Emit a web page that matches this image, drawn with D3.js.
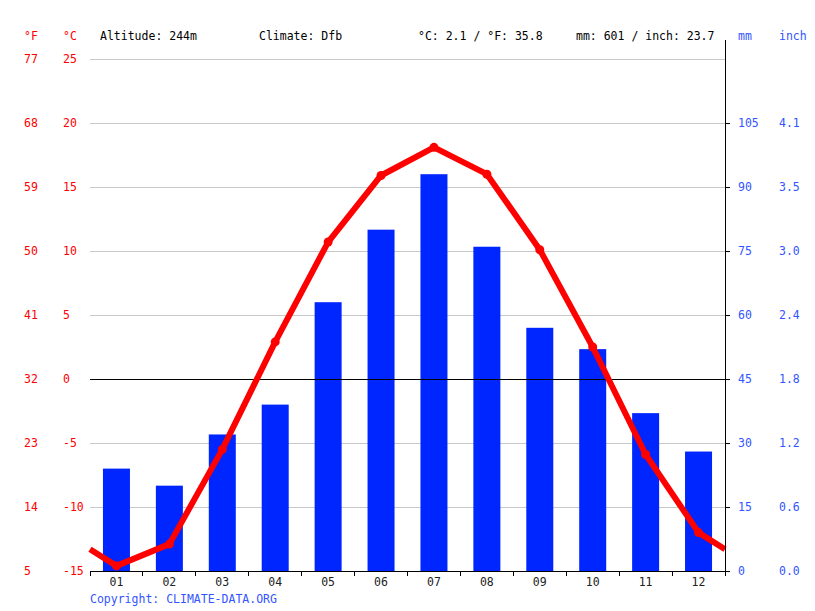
<!DOCTYPE html>
<html><head><meta charset="utf-8">
<script src="https://cdn.jsdelivr.net/npm/d3@7"></script>
<style>body{margin:0;background:#fff}svg{display:block}text{font-family:"DejaVu Sans Mono",monospace;font-size:11.5px}</style>
</head><body><svg id="c" width="815" height="611"></svg>
<script>
const months = ["01","02","03","04","05","06","07","08","09","10","11","12"];
const precipMm = [24,20,32,39,63,80,93,76,57,52,37,28];
const tempC = [-14.6,-12.9,-5.5,2.9,10.7,15.9,18.1,16.0,10.1,2.5,-5.9,-12.0];
const cTicks = [25,20,15,10,5,0,-5,-10,-15];
const fTicks = ["77","68","59","50","41","32","23","14","5"];
const mmTicks = [0,15,30,45,60,75,90,105];
const inchTicks = ["0.0","0.6","1.2","1.8","2.4","3.0","3.5","4.1"];
const header = [
  {t:"Altitude: 244m", x:100},
  {t:"Climate: Dfb", x:259},
  {t:"°C: 2.1 / °F: 35.8", x:418},
  {t:"mm: 601 / inch: 23.7", x:576}
];

const svg = d3.select("#c");
const L=90, R=725, T=59, B=571;
const x = d3.scaleBand().domain(months).range([L,R]);
const yC = d3.scaleLinear().domain([-15,25]).range([B,T]);
const yMm = d3.scaleLinear().domain([0,120]).range([B,T]);
const red="#ff0000", blue="#0026ff", lblue="#3355ff";

// gridlines
svg.append("g").selectAll("line").data(cTicks.filter(d=>d!==-15 && d!==0)).join("line")
  .attr("x1",L).attr("x2",R).attr("y1",d=>yC(d)).attr("y2",d=>yC(d))
  .attr("stroke","#c8c8c8").attr("stroke-width",1).attr("shape-rendering","crispEdges");

// bars
const bw = 27;
svg.append("g").selectAll("rect").data(precipMm).join("rect")
  .attr("x",(d,i)=>x(months[i])+x.bandwidth()/2-bw/2)
  .attr("width",bw)
  .attr("y",d=>yMm(d)).attr("height",d=>B-yMm(d))
  .attr("fill",blue);

// zero line
svg.append("line").attr("x1",L).attr("x2",R).attr("y1",yC(0)).attr("y2",yC(0))
  .attr("stroke","#000").attr("shape-rendering","crispEdges");

// temperature line with wrap-around ends
const edge = (tempC[0]+tempC[11])/2;
const pts = [[L,edge]].concat(tempC.map((d,i)=>[x(months[i])+x.bandwidth()/2,d])).concat([[R,edge]]);
svg.append("path").datum(pts)
  .attr("d",d3.line().x(d=>d[0]).y(d=>yC(d[1])))
  .attr("fill","none").attr("stroke",red).attr("stroke-width",6).attr("stroke-linejoin","round");
svg.append("g").selectAll("circle").data(tempC).join("circle")
  .attr("cx",(d,i)=>x(months[i])+x.bandwidth()/2).attr("cy",d=>yC(d)).attr("r",4.5).attr("fill",red);

// bottom axis
svg.append("line").attr("x1",L).attr("x2",R).attr("y1",B).attr("y2",B).attr("stroke","#000").attr("shape-rendering","crispEdges");
const bounds = d3.range(13).map(i=>L+i*x.step());
svg.append("g").selectAll("line").data(bounds).join("line")
  .attr("x1",d=>d).attr("x2",d=>d).attr("y1",B).attr("y2",B+5).attr("stroke","#000").attr("shape-rendering","crispEdges");
svg.append("g").selectAll("text").data(months).join("text")
  .attr("x",d=>x(d)+x.bandwidth()/2).attr("y",B+15).attr("text-anchor","middle").attr("fill","#222").text(d=>d);

// right axis
svg.append("line").attr("x1",R).attr("x2",R).attr("y1",40).attr("y2",B).attr("stroke","#000").attr("shape-rendering","crispEdges");
svg.append("g").selectAll("line").data(mmTicks).join("line")
  .attr("x1",R).attr("x2",R+5).attr("y1",d=>yMm(d)).attr("y2",d=>yMm(d)).attr("stroke","#000").attr("shape-rendering","crispEdges");
svg.append("g").selectAll("text").data(mmTicks).join("text")
  .attr("x",738).attr("y",d=>yMm(d)+4).attr("fill",lblue).text(d=>d);
svg.append("g").selectAll("text").data(inchTicks).join("text")
  .attr("x",779).attr("y",(d,i)=>yMm(mmTicks[i])+4).attr("fill",lblue).text(d=>d);

// left axes
svg.append("g").selectAll("text").data(cTicks).join("text")
  .attr("x",63).attr("y",d=>yC(d)+4).attr("fill",red).text(d=>d);
svg.append("g").selectAll("text").data(fTicks).join("text")
  .attr("x",24).attr("y",(d,i)=>yC(cTicks[i])+4).attr("fill",red).text(d=>d);

// header
svg.append("text").attr("x",24).attr("y",40).attr("fill",red).text("°F");
svg.append("text").attr("x",63).attr("y",40).attr("fill",red).text("°C");
svg.append("text").attr("x",738).attr("y",40).attr("fill",lblue).text("mm");
svg.append("text").attr("x",779).attr("y",40).attr("fill",lblue).text("inch");
svg.append("g").selectAll("text").data(header).join("text")
  .attr("x",d=>d.x).attr("y",40).attr("fill","#000").text(d=>d.t);

svg.append("text").attr("x",90).attr("y",603).attr("fill",lblue).text("Copyright: CLIMATE-DATA.ORG");
</script></body></html>
